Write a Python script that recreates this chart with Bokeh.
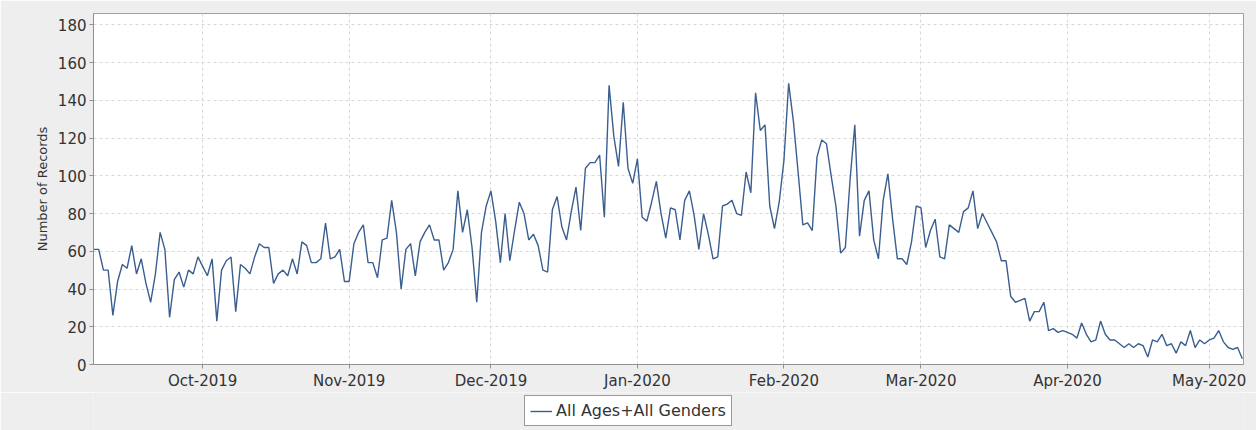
from datetime import datetime, timedelta
from bokeh.plotting import figure
from bokeh.layouts import column
from bokeh.models import (ColumnDataSource, Range1d, FixedTicker, DatetimeTickFormatter,
                          Legend, LegendItem)
from bokeh.embed import file_html
from bokeh.resources import INLINE

# ---- data -------------------------------------------------------------
first_day = "2019-09-08"
records = [
    61, 61, 50, 50, 26, 44, 53, 51, 63, 48, 56, 43, 33, 48, 70, 61, 25, 45, 49, 41,
    50, 48, 57, 52, 47, 56, 23, 50, 55, 57, 28, 53, 51, 48, 57, 64, 62, 62, 43, 48,
    50, 47, 56, 48, 65, 63, 54, 54, 56, 75, 56, 57, 61, 44, 44, 64, 70, 74, 54, 54,
    46, 66, 67, 87, 70, 40, 61, 64, 47, 65, 70, 74, 66, 66, 50, 54, 61, 92, 70, 82,
    62, 33, 70, 84, 92, 76, 54, 80, 55, 71, 86, 80, 66, 69, 63, 50, 49, 82, 89, 73,
    66, 81, 94, 71, 104, 107, 107, 111, 78, 148, 121, 105, 139, 104, 96, 109, 78, 76, 86, 97,
    80, 67, 83, 82, 66, 87, 92, 79, 61, 80, 69, 56, 57, 84, 85, 87, 80, 79, 102, 91,
    144, 124, 127, 84, 72, 86, 108, 149, 129, 102, 74, 75, 71, 110, 119, 117, 100, 84, 59, 62,
    98, 127, 68, 87, 92, 66, 56, 87, 101, 77, 56, 56, 53, 65, 84, 83, 62, 71, 77, 57,
    56, 74, 72, 70, 81, 83, 92, 72, 80, 75, 70, 65, 55, 55, 36, 33, 34, 35, 23, 28,
    28, 33, 18, 19, 17, 18, 17, 16, 14, 22, 16, 12, 13, 23, 16, 13, 13, 11, 9, 11,
    9, 11, 10, 4, 13, 12, 16, 10, 11, 6, 12, 10, 18, 9, 13, 11, 13, 14, 18, 12,
    9, 8, 9, 3,
]
month_ticks = ["2019-10-01", "2019-11-01", "2019-12-01", "2020-01-01",
               "2020-02-01", "2020-03-01", "2020-04-01", "2020-05-01"]
y_ticks = [0, 20, 40, 60, 80, 100, 120, 140, 160, 180]
series_name = "All Ages+All Genders"
y_title = "Number of Records"

LINE_COLOR = "#3a5e90"
BG = "#eeeeee"

# ---- build ------------------------------------------------------------
start = datetime.strptime(first_day, "%Y-%m-%d")
dates = [start + timedelta(days=i) for i in range(len(records))]
src = ColumnDataSource(dict(date=dates, records=records))

def ms(d):
    return (d - datetime(1970, 1, 1)).total_seconds() * 1000.0

x_start = ms(start) - 0.1 * 86400000
x_end = ms(dates[-1]) + 0.25 * 86400000

p = figure(width=1256, height=392, x_axis_type="datetime",
           output_backend="svg", toolbar_location=None,
           x_range=Range1d(x_start, x_end), y_range=Range1d(0, 186),
           min_border_left=93, min_border_right=13, min_border_top=13,
           min_border_bottom=27,
           background_fill_color="white", border_fill_color=BG,
           outline_line_color="#a0a0a0", outline_line_width=1)

r = p.line(x="date", y="records", source=src, line_color=LINE_COLOR, line_width=1.4)

p.xaxis.ticker = FixedTicker(ticks=[ms(datetime.strptime(t, "%Y-%m-%d")) for t in month_ticks])
fmt = "%b-%Y"
p.xaxis.formatter = DatetimeTickFormatter(days=fmt, months=fmt, years=fmt, hours=fmt,
                                          minutes=fmt, seconds=fmt, milliseconds=fmt,
                                          microseconds=fmt, minsec=fmt, hourmin=fmt)
p.yaxis.ticker = FixedTicker(ticks=y_ticks)
p.yaxis.axis_label = y_title

for ax in (p.xaxis[0], p.yaxis[0]):
    ax.axis_line_color = "#909090"
    ax.major_tick_line_color = "#909090"
    ax.major_tick_out = 4
    ax.major_tick_in = 0
    ax.minor_tick_line_color = None
    ax.major_label_text_font = "DejaVu Sans"
    ax.major_label_text_font_size = "15px"
    ax.major_label_text_color = "#333333"
    ax.axis_label_text_font = "DejaVu Sans"
    ax.axis_label_text_font_size = "13px"
    ax.axis_label_text_font_style = "normal"
    ax.axis_label_text_color = "#333333"
    ax.major_label_standoff = 3

p.xgrid.grid_line_color = "#d8d8d8"
p.ygrid.grid_line_color = "#d8d8d8"
p.xgrid.grid_line_dash = "3 3"
p.ygrid.grid_line_dash = "3 3"

# ---- legend strip under the chart -----------------------------------
lg = figure(width=1256, height=38, output_backend="svg", toolbar_location=None,
            x_range=Range1d(0, 1), y_range=Range1d(0, 1),
            x_axis_location=None, y_axis_location=None, min_border=0,
            background_fill_color=BG, border_fill_color=BG, outline_line_color=None)
lg.grid.visible = False
# key glyph for the legend only (its points lie outside the visible range)
key = lg.line(x=[5, 6], y=[5, 6], line_color=LINE_COLOR, line_width=1.4)

legend = Legend(items=[LegendItem(label=series_name, renderers=[key])],
                location=(431, 4), orientation="horizontal",
                border_line_color="#333333", border_line_width=1,
                background_fill_color="white", background_fill_alpha=1.0,
                label_text_font="DejaVu Sans", label_text_font_size="16px",
                label_text_color="#333333",
                glyph_width=22, glyph_height=16, label_standoff=4,
                padding=5, margin=0, spacing=0)
lg.add_layout(legend, "center")

open("out.html", "w").write(file_html(column(p, lg, spacing=0), INLINE))
